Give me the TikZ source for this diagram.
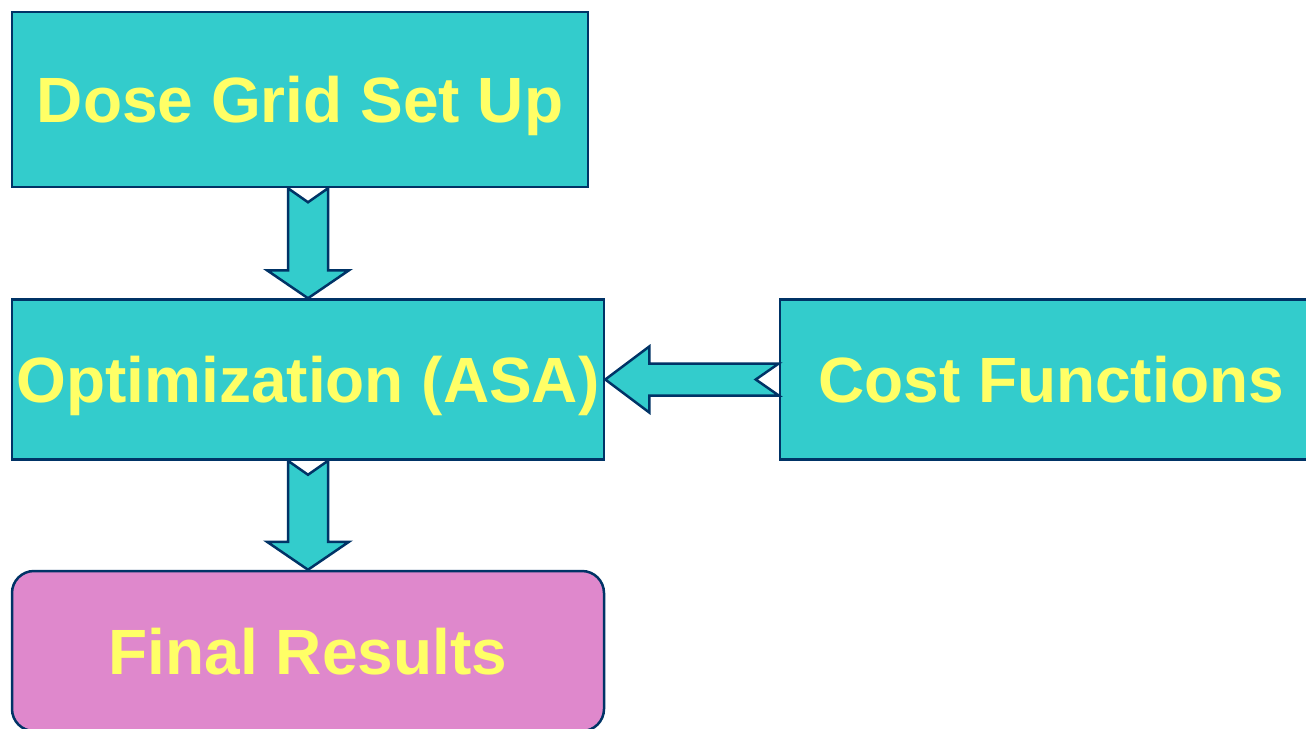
\documentclass[tikz,border=0pt]{standalone}
\usepackage{fontspec}
\setmainfont{Liberation Sans}
\usetikzlibrary{calc}
\definecolor{boxcyan}{HTML}{33CCCC}
\definecolor{boxnavy}{HTML}{003366}
\definecolor{textyellow}{HTML}{FFFF66}
\definecolor{boxpink}{HTML}{DF88CC}
\tikzset{
  stepbox/.style={draw=boxnavy, line width=2.5pt, fill=boxcyan, text=textyellow,
    font=\fontsize{64}{70}\selectfont\bfseries, inner sep=0pt,
    text height=46pt, text depth=0pt},
  resultbox/.style={stepbox, fill=boxpink, rounded corners=22pt},
  blockarrow/.style={draw=boxnavy, line width=2.5pt, fill=boxcyan, line join=miter}
}
\begin{document}
\begin{tikzpicture}[x=1pt, y=-1pt]
            \useasboundingbox (0,0) rectangle (1306,728);
            \clip (0,0) rectangle (1306,728);
            % Boxes
            \node[stepbox, minimum width=576pt, minimum height=175pt] (dose) at (300,99.5) {Dose Grid Set Up};
            \node[stepbox, minimum width=592pt, minimum height=160pt] (opt) at (308,379.5) {Optimization (ASA)};
            \node[stepbox, minimum width=542pt, minimum height=160pt] (cost) at (1051,379.5) {Cost Functions};
            \node[resultbox, minimum width=592pt, minimum height=160pt] (res) at (308,651) {Final Results};
            % Block arrows
            \coordinate (a) at (opt.north |- dose.south);
            \draw[blockarrow] ($(a)+(-20,0)$) -- ($(a)+(0,14)$) -- ($(a)+(20,0)$)
                -- ($(opt.north)+(20,-28)$) -- ($(opt.north)+(41,-28)$) -- (opt.north)
                -- ($(opt.north)+(-41,-28)$) -- ($(opt.north)+(-20,-28)$) -- cycle;
            \draw[blockarrow] ($(opt.south)+(-20,0)$) -- ($(opt.south)+(0,14)$) -- ($(opt.south)+(20,0)$)
                -- ($(res.north)+(20,-28)$) -- ($(res.north)+(41,-28)$) -- (res.north)
                -- ($(res.north)+(-41,-28)$) -- ($(res.north)+(-20,-28)$) -- cycle;
            \draw[blockarrow] ($(cost.west)+(0,-16)$) -- ($(cost.west)+(-23,0)$) -- ($(cost.west)+(0,16)$)
                -- ($(opt.east)+(44,16)$) -- ($(opt.east)+(44,33)$) -- (opt.east)
                -- ($(opt.east)+(44,-33)$) -- ($(opt.east)+(44,-16)$) -- cycle;
        \end{tikzpicture}
\end{document}
